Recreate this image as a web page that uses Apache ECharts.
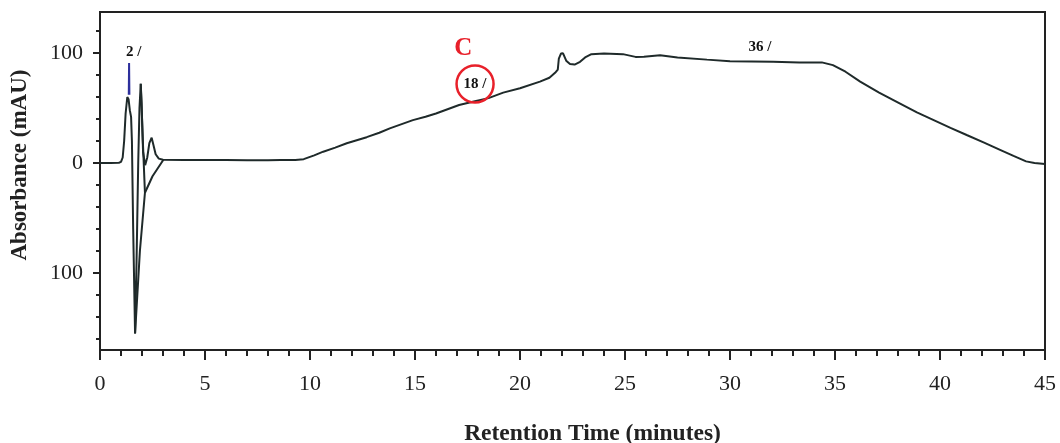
<!DOCTYPE html>
<html>
<head>
<meta charset="utf-8">
<script src="https://cdn.jsdelivr.net/npm/echarts@6/dist/echarts.min.js"></script>
<style>html,body{margin:0;padding:0;background:#fff}#c{width:1060px;height:443px}</style>
</head>
<body>
<div id="c"></div>
<script>
// ---- Data ----
const xTitle = 'Retention Time (minutes)';
const yTitle = 'Absorbance (mAU)';
const yLabelValues = [-100, 0, 100];
const yMinorTickValues = [-160, -140, -120, -100, -80, -60, -40, -20, 0, 20, 40, 60, 80, 100, 120];

// main trace [minutes, mAU]
const traceMain = [
  [0,0],[0.5,0],[0.9,0.3],[1.0,1],[1.08,5],[1.15,20],[1.22,45],[1.3,60],[1.36,58],[1.42,48],[1.48,42],
  [1.52,20],[1.58,-60],[1.67,-155],[1.74,-90],[1.82,0],[1.88,50],[1.94,72],[1.98,55],[2.05,10],
  [2.15,-2],[2.25,5],[2.35,18],[2.46,23],[2.55,16],[2.65,8],[2.8,4],[3.0,3],[4,2.8],[5,2.7],[6,2.7],
  [7,2.5],[8,2.5],[8.6,2.7],[9.3,2.8],[9.7,3.5],[10.2,7],[10.63,10.3],[11.2,14],[11.75,18],[12.7,23.5],
  [13.3,27.5],[13.8,31.5],[14.9,39],[15.5,42],[16.0,45],[17.1,52.7],[17.8,56],[18.5,59],[19.2,64],
  [20,68],[20.95,74],[21.4,77.5],[21.67,82],[21.8,85],[21.85,95],[21.95,99.5],[22.05,99.7],[22.2,93],
  [22.38,90],[22.6,89.5],[22.86,92],[23.1,96],[23.4,99],[24.0,99.5],[24.9,99],[25.5,96.5],[25.9,96.6],
  [26.67,98],[27.5,96],[28.9,94],[30,92.5],[32.05,92],[33.3,91.5],[34.37,91.5],[34.9,89],[35.5,83],
  [36.2,74],[37.1,64],[38.1,54],[38.9,46],[39.7,39],[40.5,32],[41.27,25.5],[42.1,18.5],[42.86,12],
  [43.5,6.5],[44.1,1.5],[44.5,0],[45,-1]
];
// overlaid runs that differ near the solvent front
const traceB = [[1.67,-155],[1.9,-80],[2.14,-27],[2.5,-12],[3.02,3]];
const traceC = [[1.94,72],[2.04,20],[2.14,-27]];
const traceBlue = [[1.37,62],[1.385,91],[1.40,62]];

// peak labels [text, minutes, mAU]
const peakLabels = [['2 /',1.6,101],['18 /',17.86,71.8],['36 /',31.43,105]];
const panelLetter = ['C',17.3,104];
const circled = [17.86,71.8];

// ---- Chart ----
const serif = "'Liberation Serif','Times New Roman',serif";
const ink = '#222';
const lineCol = '#1f2a2a';
const chart = echarts.init(document.getElementById('c'), null, {renderer:'canvas'});

const textPoints = peakLabels.map(p => ({
  value:[p[1],p[2]],
  label:{show:true, formatter:p[0], position:'inside', color:'#111', fontFamily:serif, fontWeight:'bold', fontSize:15}
}));
textPoints.push({
  value:[panelLetter[1],panelLetter[2]],
  label:{show:true, formatter:panelLetter[0], position:'inside', color:'#e8202a', fontFamily:serif, fontWeight:'bold', fontSize:25}
});

chart.setOption({
  animation:false,
  backgroundColor:'#fff',
  grid:{left:100, right:15, top:12, bottom:93, containLabel:false, outerBoundsMode:'none',
    show:true, borderColor:ink, borderWidth:2, backgroundColor:'transparent'},
  xAxis:{
    type:'value', min:0, max:45, interval:5,
    name:xTitle, nameLocation:'middle', nameGap:72,
    nameTextStyle:{fontFamily:serif, fontWeight:'bold', fontSize:23.5, color:ink, padding:[0,0,0,40]},
    axisLine:{show:true, onZero:false, lineStyle:{color:ink, width:2}},
    axisTick:{show:true, length:10, lineStyle:{color:ink, width:2}},
    minorTick:{show:true, splitNumber:5, length:6, lineStyle:{color:ink, width:2}},
    splitLine:{show:false},
    axisLabel:{fontFamily:serif, fontSize:22, color:ink, margin:23}
  },
  yAxis:[{
    type:'value', min:-170, max:137.3,
    name:yTitle, nameLocation:'middle', nameGap:68,
    nameTextStyle:{fontFamily:serif, fontWeight:'bold', fontSize:23, color:ink, padding:[0,0,0,32]},
    axisLine:{show:true, onZero:false, lineStyle:{color:ink, width:2}},
    axisTick:{show:true, length:7, customValues:yLabelValues, lineStyle:{color:ink, width:2}},
    axisLabel:{fontFamily:serif, fontSize:22, color:ink, margin:17, customValues:yLabelValues,
      formatter:v => String(Math.abs(v))},
    splitLine:{show:false}
  },{
    type:'value', min:-170, max:137.3, position:'left',
    axisLine:{show:false},
    axisTick:{show:true, length:4, customValues:yMinorTickValues, lineStyle:{color:ink, width:2}},
    axisLabel:{show:false},
    splitLine:{show:false}
  }],
  series:[
    {type:'line', data:traceMain, showSymbol:false, lineStyle:{color:lineCol, width:2}, z:3},
    {type:'line', data:traceB, showSymbol:false, lineStyle:{color:lineCol, width:2}, z:3},
    {type:'line', data:traceC, showSymbol:false, lineStyle:{color:lineCol, width:2}, z:3},
    {type:'line', data:traceBlue, showSymbol:false, lineStyle:{color:'#2d2f9c', width:2}, z:4},
    {type:'scatter', data:textPoints, symbolSize:1, itemStyle:{color:'rgba(0,0,0,0)', opacity:1}, z:6, silent:true},
    {type:'scatter', data:[circled], symbol:'circle', symbolSize:37, silent:true, z:5,
      itemStyle:{color:'rgba(255,255,255,0)', opacity:1, borderColor:'#e8202a', borderWidth:2.5}}
  ]
});
</script>
</body>
</html>
